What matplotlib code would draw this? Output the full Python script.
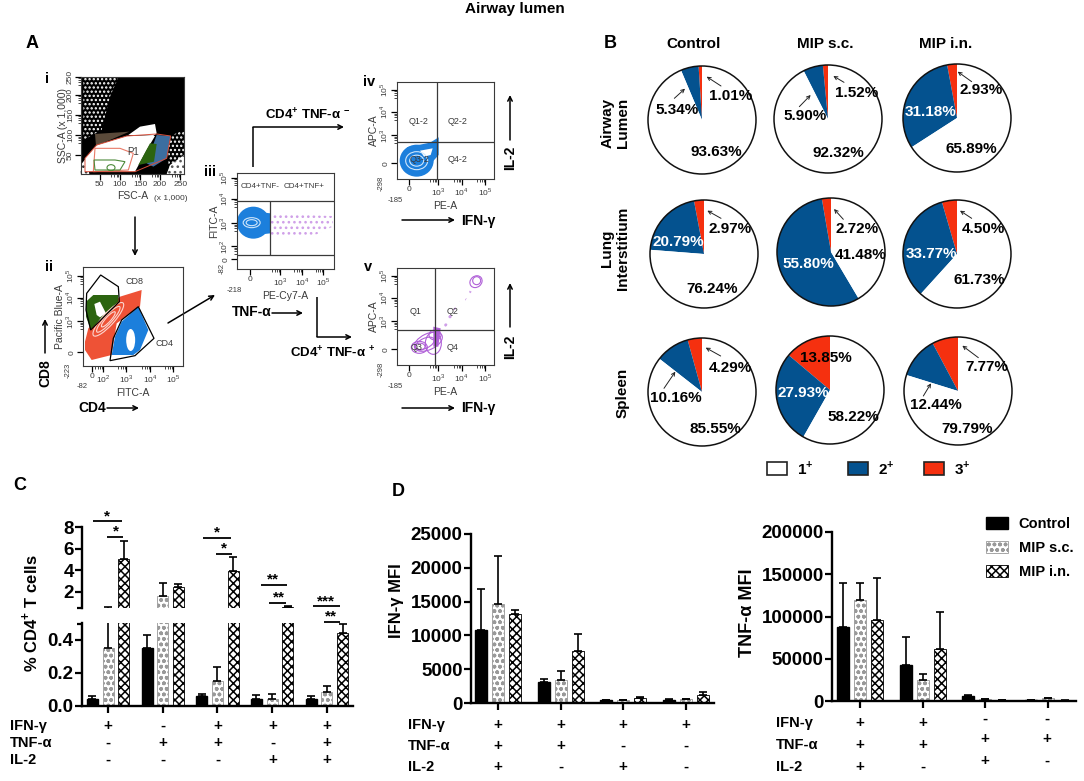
import matplotlib
matplotlib.use("Agg")
import matplotlib.pyplot as plt
from matplotlib.patches import Ellipse, Polygon, Rectangle

plt.rcParams['font.family'] = ['Liberation Sans', 'DejaVu Sans']
plt.rcParams['mathtext.fontset'] = 'custom'
plt.rcParams['mathtext.rm'] = 'Liberation Sans'
plt.rcParams['mathtext.bf'] = 'Liberation Sans:bold'
plt.rcParams['hatch.linewidth'] = 1.1

W, H = 1084, 781

GROUPS = ["Control", "MIP s.c.", "MIP i.n."]
ORGANS = ["Airway\nLumen", "Lung\nInterstitium", "Spleen"]

# pie values: 3+, 2+, 1+ for each organ (row) and group (col)
PIE_3 = [[1.01, 1.52, 2.93], [2.97, 2.72, 4.50], [4.29, 13.85, 7.77]]
PIE_2 = [[5.34, 5.90, 31.18], [20.79, 55.80, 33.77], [10.16, 27.93, 12.44]]
PIE_1 = [[93.63, 92.32, 65.89], [76.24, 41.48, 61.73], [85.55, 58.22, 79.79]]

# panel C, % CD4+ T cells
C_CONTROL = [0.04, 0.35, 0.06, 0.04, 0.045]
C_SC = [0.35, 1.6, 0.15, 0.04, 0.085]
C_IN = [5.0, 2.4, 3.9, 0.6, 0.44]
C_CONTROL_ERR = [0.02, 0.08, 0.012, 0.025, 0.015]
C_SC_ERR = [0.2, 1.2, 0.085, 0.03, 0.035]
C_IN_ERR = [1.7, 0.3, 1.3, 0.1, 0.055]
C_IFN = ["+", "-", "+", "+", "+"]
C_TNF = ["-", "+", "+", "-", "+"]
C_IL2 = ["-", "-", "-", "+", "+"]

# panel D, IFN-g MFI
D_CONTROL = [10800, 3050, 400, 450]
D_SC = [14700, 3400, 400, 550]
D_IN = [13200, 7700, 750, 1200]
D_CONTROL_ERR = [6000, 550, 50, 70]
D_SC_ERR = [7100, 1350, 80, 100]
D_IN_ERR = [500, 2450, 150, 450]
D_IFN = ["+", "+", "+", "+"]
D_TNF = ["+", "+", "-", "-"]
D_IL2 = ["+", "-", "+", "-"]

# panel D, TNF-a MFI
E_CONTROL = [88000, 43000, 5500, 800]
E_SC = [120000, 24500, 2000, 3000]
E_IN = [96000, 61000, 1200, 500]
E_CONTROL_ERR = [52000, 33000, 1300, 200]
E_SC_ERR = [20000, 8000, 800, 800]
E_IN_ERR = [50000, 44000, 300, 200]
E_IFN = ["+", "+", "-", "-"]
E_TNF = ["+", "+", "+", "+"]
E_IL2 = ["+", "-", "+", "-"]

BLUE = "#04528f"
RED = "#f5300f"
FLOW_BLUE = "#1c7fdc"
FLOW_RED = "#ee5236"
FLOW_GREEN = "#2c6410"
PURPLE = "#b060d8"
GREY = "#3a3a3a"

fig = plt.figure(figsize=(W / 100, H / 100), dpi=100)

# overlay in pixel units, y flipped by hand because ax.pie needs y going up
ov = fig.add_axes([0, 0, 1, 1], zorder=0)
ov.set_xlim(0, W)
ov.set_ylim(0, H)
ov.axis("off")


def label(x, y, s, size=11, weight="bold", color="black", rot=0, ha="center", target=None):
    (target or ov).text(x, H - y, s, fontsize=size, fontweight=weight, color=color,
                        rotation=rot, ha=ha, va="center", linespacing=1.1, zorder=8)


def arrow(x0, y0, x1, y1, color="black", lw=1.1, scale=8):
    ov.annotate("", xy=(x1, H - y1), xytext=(x0, H - y0), zorder=7,
                arrowprops=dict(arrowstyle="->", color=color, lw=lw, mutation_scale=scale,
                                shrinkA=0, shrinkB=0))


def line(xs, ys, color="black", lw=1.1):
    ov.plot(xs, [H - y for y in ys], color=color, lw=lw, zorder=6, solid_capstyle="butt")


def z1(pts):
    # coordinates
    return [(x / 3, H - (30 + y / 3)) for x, y in pts]


def z2(pts):
    return [(200 + x / 3, H - (60 + y / 3)) for x, y in pts]


def poly(pts, fc, ec="none", lw=0, z=2, hatch=None):
    ov.add_patch(Polygon(pts, closed=True, facecolor=fc, edgecolor=ec, lw=lw, zorder=z, hatch=hatch))


def flow_axes(x0, y0, x1, y1, xpos, xlabs, ypos, ylabs, xname, yname):
    ax = fig.add_axes([x0 / W, 1 - y1 / H, (x1 - x0) / W, (y1 - y0) / H], zorder=3)
    ax.patch.set_alpha(0)
    ax.set_xlim(0, 1)
    ax.set_ylim(0, 1)
    ax.set_xticks(xpos, xlabs, fontsize=6, color=GREY)
    ax.set_yticks(ypos, ylabs, fontsize=6, color=GREY, rotation=90, va="center")
    minor_x = [p + d for p in xpos[1:] for d in (-0.08, -0.05, -0.03, -0.015)]
    minor_y = [p + d for p in ypos[1:] for d in (-0.08, -0.05, -0.03, -0.015)]
    ax.set_xticks([p for p in minor_x if 0 < p < 1], minor=True)
    ax.set_yticks([p for p in minor_y if 0 < p < 1], minor=True)
    ax.tick_params(length=4, width=0.9, pad=1)
    ax.tick_params(which="minor", length=2.5, width=0.5)
    ax.set_xlabel(xname, fontsize=7.5, color=GREY, labelpad=2)
    ax.set_ylabel(yname, fontsize=7.5, color=GREY, labelpad=-1)
    for s in ax.spines.values():
        s.set_linewidth(0.8)
        s.set_color(GREY)
    return ax


# ---------- panel A ----------
# i: FSC/SSC
poly(z1([(242, 142), (552, 142), (552, 432), (242, 432)]), "black", z=1)
poly(z1([(250, 142), (355, 142), (330, 200), (305, 300), (250, 330)]), "black", ec="white", z=1.2, hatch="....")
poly(z1([(505, 320), (552, 300), (552, 432), (505, 432)]), "black", ec="white", z=1.2, hatch="....")
poly(z1([(510, 405), (552, 375), (552, 432), (500, 432)]), "white", ec="#555555", z=1.3, hatch="...")
poly(z1([(242, 405), (258, 385), (268, 432), (242, 432)]), "white", ec="#333333", z=1.3, hatch="...")
poly(z1([(385, 315), (420, 290), (465, 282), (470, 310), (460, 318)]), "white")
poly(z1([(255, 385), (290, 345), (380, 318), (465, 318), (440, 360), (405, 425), (255, 425)]), "white")
poly(z1([(285, 312), (388, 305), (330, 330), (288, 347)]), "#5a4a3a", z=2.1)
poly(z1([(470, 315), (512, 318), (500, 385), (460, 410), (440, 400)]), "#3c6ea0", z=2.1)
poly(z1([(415, 405), (450, 340), (470, 342), (462, 395)]), FLOW_GREEN, z=2.2)
poly(z1([(285, 355), (360, 355), (400, 370), (385, 420), (280, 425)]), "none", ec="#e87a68", lw=0.8, z=2.3)
poly(z1([(282, 390), (345, 390), (375, 395), (360, 420), (285, 420)]), "none", ec="#4c8a3a", lw=0.8, z=2.3)
ov.add_patch(Ellipse(z1([(333, 413)])[0], 8, 6, fc="none", ec="#4c8a3a", lw=0.8, zorder=2.3))
poly(z1([(255, 385), (290, 345), (380, 318), (470, 312), (512, 318), (500, 385), (405, 425), (255, 425)]),
     "none", ec="#d8503c", lw=0.7, z=2.4)
label(133, 152, "P1", size=7, weight="normal", color=GREY)
flow_axes(81, 77, 184, 174,
          [0.18, 0.375, 0.575, 0.765, 0.965], ["50", "100", "150", "200", "250"],
          [0.195, 0.40, 0.61, 0.815, 1.0], ["50", "100", "150", "200", "250"], "FSC-A", "SSC-A (x 1,000)")
label(171, 198, "(x 1,000)", size=6, weight="normal", color=GREY)

# ii: CD4/CD8
poly(z1([(255, 935), (265, 895), (360, 800), (425, 780), (420, 830), (350, 880), (335, 975), (275, 990), (255, 960)]), FLOW_RED)
poly(z1([(258, 815), (280, 795), (355, 795), (355, 815), (272, 898), (258, 860)]), FLOW_GREEN, z=2.2)
poly(z1([(335, 975), (345, 920), (365, 875), (415, 830), (445, 900), (420, 960), (400, 975)]), FLOW_BLUE, z=2.2)
poly(z1([(283, 822), (300, 815), (318, 850), (300, 862), (290, 855)]), "white", z=2.3)
ov.add_patch(Ellipse(z1([(392, 930)])[0], 9, 22, fc="white", ec="none", zorder=2.3))
for w, h in ((44, 12), (34, 8), (20, 5)):
    ov.add_patch(Ellipse(z1([(325, 868)])[0], w, h, angle=48, fc="none", ec="#fbd6cf", lw=0.8, zorder=2.3))
poly(z1([(260, 790), (302, 735), (355, 770), (358, 815), (272, 900), (258, 840)]), "none", ec="black", lw=0.9, z=2.5)
poly(z1([(415, 830), (462, 925), (405, 977), (330, 992), (340, 925), (365, 870)]), "none", ec="black", lw=0.9, z=2.5)
label(134, 282, "CD8", size=6.5, weight="normal", color=GREY)
label(164, 344, "CD4", size=6.5, weight="normal", color=GREY)
flow_axes(83, 267, 183, 366,
          [0.09, 0.20, 0.43, 0.67, 0.90], ["0", "$10^2$", "$10^3$", "$10^4$", "$10^5$"],
          [0.14, 0.45, 0.69, 0.91], ["0", "$10^3$", "$10^4$", "$10^5$"], "FITC-A", "Pacific Blue-A")
label(82, 386, "-82", size=5.5, weight="normal", color=GREY)
label(68, 370, "-223", size=5.5, weight="normal", color=GREY, rot=90)

# iii: TNF gate
ov.add_patch(Ellipse(z2([(160, 488)])[0], 33, 32, fc=FLOW_BLUE, ec="none", zorder=2))
poly(z2([(165, 455), (212, 460), (212, 520), (165, 525)]), FLOW_BLUE, z=2)
poly(z2([(212, 460), (398, 468), (398, 500), (345, 525), (212, 525)]), "none", ec="#cf9fe8", z=2, hatch="...")
for w, h in ((17, 10), (11, 6)):
    ov.add_patch(Ellipse(z2([(155, 488)])[0], w, h, fc="none", ec="#cfe6fb", lw=0.8, zorder=2.3))
line([237, 334], [201, 201], color=GREY, lw=0.9)
line([237, 334], [254.5, 254.5], color=GREY, lw=0.9)
line([270, 270], [201, 254.5], color=GREY, lw=0.9)
label(260, 186, "CD4+TNF-", size=5.8, weight="normal", color=GREY)
label(304, 186, "CD4+TNF+", size=5.8, weight="normal", color=GREY)
flow_axes(237, 173, 334, 269,
          [0.13, 0.445, 0.67, 0.89], ["0", "$10^3$", "$10^4$", "$10^5$"],
          [0.10, 0.235, 0.475, 0.73, 0.95], ["0", "$10^2$", "$10^3$", "$10^4$", "$10^5$"], "PE-Cy7-A", "FITC-A")
label(234, 291, "-218", size=5.5, weight="normal", color=GREY)
label(222, 268, "-82", size=5.5, weight="normal", color=GREY, rot=90)

# iv
ov.add_patch(Ellipse(z2([(650, 302)])[0], 34, 32, fc=FLOW_BLUE, ec="none", zorder=2))
poly(z2([(620, 262), (690, 248), (716, 232), (716, 285), (680, 325)]), FLOW_BLUE, z=2)
poly(z2([(660, 272), (698, 265), (692, 285), (672, 290)]), "white", z=2.1)
for w, h in ((22, 18), (14, 11)):
    ov.add_patch(Ellipse(z2([(650, 302)])[0], w, h, fc="none", ec="#cfe6fb", lw=0.8, zorder=2.3))
line([397, 494], [141.5, 141.5], color=GREY, lw=0.9)
line([437, 437], [82, 179], color=GREY, lw=0.9)

# v
for c, w, h, a in (((658, 862), 16, 12, 0), ((660, 860), 10, 7, 0), ((685, 845), 30, 16, 25), ((675, 850), 20, 10, 25),
                   ((705, 825), 12, 10, 0), ((828, 665), 13, 11, 40), ((830, 662), 8, 8, 40), ((700, 850), 16, 22, 0)):
    ov.add_patch(Ellipse(z2([c])[0], w, h, angle=a, fc="none", ec=PURPLE, lw=0.8, zorder=2.3))
poly(z2([(700, 800), (722, 805), (715, 860), (700, 860)]), PURPLE, z=2)
poly(z2([(720, 800), (805, 690), (815, 695), (735, 805)]), "none", ec="#cf9fe8", z=2, hatch="..")
line([397, 494], [329.5, 329.5], color=GREY, lw=0.9)
line([435, 435], [268, 365], color=GREY, lw=0.9)

flow_xpos = [0.12, 0.42, 0.667, 0.907]
flow_xlab = ["0", "$10^3$", "$10^4$", "$10^5$"]
flow_ypos = [0.16, 0.45, 0.69, 0.92]
flow_axes(397, 82, 494, 179, flow_xpos, flow_xlab, flow_ypos, flow_xlab, "PE-A", "APC-A")
flow_axes(397, 268, 494, 365, flow_xpos, flow_xlab, flow_ypos, flow_xlab, "PE-A", "APC-A")
for ytop in (82, 268):
    label(395, ytop + 119, "-185", size=5.5, weight="normal", color=GREY)
    label(381, ytop + 101, "-298", size=5.5, weight="normal", color=GREY, rot=90)
for s, x, y in (("Q1-2", 419, 121), ("Q2-2", 458, 121), ("Q3-2", 420, 159), ("Q4-2", 458, 160),
                ("Q1", 416, 311), ("Q2", 453, 311), ("Q3", 417, 347), ("Q4", 453, 348)):
    label(x, y, s, size=6.5, weight="normal", color=GREY)

# roman numerals and flow arrows
for s, x, y in (("i", 47, 79), ("ii", 49, 267), ("iii", 210, 172), ("iv", 369, 82), ("v", 368, 267)):
    label(x, y, s, size=10.5)
arrow(135, 217, 135, 256)
arrow(168, 323, 215, 295)
arrow(45, 353, 45, 319)
arrow(107, 408, 139, 408)
arrow(272, 313, 303, 313)
arrow(402, 220, 455, 220)
arrow(402, 408, 455, 408)
arrow(510, 140, 510, 95)
arrow(510, 327, 510, 283)
line([253, 253], [167, 127])
arrow(253, 127, 344, 127)
line([317, 317], [297, 337])
arrow(317, 337, 352, 337)
label(45, 373, "CD8", size=10, rot=90)
label(92, 408, "CD4", size=10)
label(252, 312, "TNF-α", size=10)
label(478, 221, "IFN-γ", size=10)
label(478, 408, "IFN-γ", size=10)
label(510, 158, "IL-2", size=10, rot=90)
label(510, 347, "IL-2", size=10, rot=90)
label(308, 115, "CD4$^{\\mathbf{+}}$ TNF-α $^{\\mathbf{-}}$", size=9.5)
label(333, 353, "CD4$^{\\mathbf{+}}$ TNF-α $^{\\mathbf{+}}$", size=9.5)

# panel letters and title
label(515, 9, "Airway lumen", size=11)
label(32, 44, "A", size=13)
label(610, 43, "B", size=13)
label(20, 486, "C", size=13)
label(398, 492, "D", size=13)

# ---------- panel B pies ----------
PIE_CENTERS = [[(702, 120), (828, 119), (957, 118)],
               [(704, 254), (831, 252), (957, 254)],
               [(702, 392), (830, 390), (958, 391)]]
for r in range(3):
    for c in range(3):
        cx, cy = PIE_CENTERS[r][c]
        vals = [PIE_3[r][c], PIE_2[r][c], PIE_1[r][c]]
        ov.pie(vals, colors=[RED, BLUE, "white"], center=(cx, H - cy), radius=54, startangle=90,
               frame=True, wedgeprops=dict(edgecolor="none"))
        ov.add_patch(plt.Circle((cx, H - cy), 54, fc="none", ec="#111111", lw=1.1, zorder=3))
ov.set_xlim(0, W)
ov.set_ylim(0, H)
ov.set_xticks([])
ov.set_yticks([])

PIE_TEXT_POS = [
    [[(422, 197), (262, 240), (378, 365)], [(800, 190), (645, 258), (745, 369)], [(1172, 180), (1022, 245), (1145, 357)]],
    [[(420, 598), (265, 635), (366, 776)], [(800, 598), (656, 703), (812, 675)], [(1180, 596), (1025, 672), (1168, 750)]],
    [[(420, 1013), (257, 1105), (375, 1197)], [(708, 984), (640, 1088), (790, 1162)], [(1190, 1012), (1037, 1125), (1132, 1197)]],
]
WHITE_TEXT = [(0, 2), (1, 0), (1, 1), (1, 2), (2, 1)]
for r in range(3):
    for c in range(3):
        vals = [PIE_3[r][c], PIE_2[r][c], PIE_1[r][c]]
        for i, v in enumerate(vals):
            px, py = PIE_TEXT_POS[r][c][i]
            col = "white" if i == 1 and (r, c) in WHITE_TEXT else "black"
            label(590 + px / 3, 30 + py / 3, f"{v:.2f}%", size=11, color=col)

PIE_ARROWS = [(393, 168, 350, 140), (253, 205, 285, 176), (762, 157, 730, 138), (628, 230, 662, 195),
              (1145, 155, 1103, 125), (393, 565, 352, 542), (760, 568, 732, 537), (1145, 565, 1110, 542),
              (392, 978, 347, 953), (222, 1075, 256, 1025), (1165, 983, 1117, 947), (1000, 1098, 1023, 1060)]
for x0, y0, x1, y1 in PIE_ARROWS:
    arrow(590 + x0 / 3, 30 + y0 / 3, 590 + x1 / 3, 30 + y1 / 3, color="#222222", lw=0.7, scale=6)

for s, x in zip(GROUPS, (694, 825, 946)):
    label(x, 44, s, size=11)
for s, x, y in zip(ORGANS, (615, 615, 623), (123, 248, 393)):
    label(x, y, s, size=11, rot=90)

for x, col, s, tx in ((767, "white", "1", 805), (848, BLUE, "2", 886), (924, RED, "3", 962)):
    ov.add_patch(Rectangle((x, H - 475), 20, 13, fc=col, ec="#222222", lw=1.2, zorder=3))
    label(tx, 468, s + "$^{\\mathbf{+}}$", size=11)


# ---------- bars ----------
def bar_axes(x0, y0, x1, y1, xlim, ylim):
    ax = fig.add_axes([x0 / W, 1 - y1 / H, (x1 - x0) / W, (y1 - y0) / H], zorder=4)
    ax.patch.set_alpha(0)
    ax.set_xlim(*xlim)
    ax.set_ylim(*ylim)
    ax.spines["top"].set_visible(False)
    ax.spines["right"].set_visible(False)
    ax.spines["left"].set_linewidth(1.7)
    ax.spines["bottom"].set_linewidth(1.7)
    ax.tick_params(width=1.6, length=5, labelsize=13, pad=1)
    return ax


def draw_bars(ax, series, errs, step, width):
    styles = [dict(color="black", edgecolor="black"),
              dict(color="white", edgecolor="#999999", hatch="ooo", lw=0.6),
              dict(color="white", edgecolor="black", hatch="xxxx", lw=0.6)]
    ymin = ax.get_ylim()[0]
    handles = []
    for i, (vals, err) in enumerate(zip(series, errs)):
        xs = [g + (i - 1) * step for g in range(len(vals))]
        h = ax.bar(xs, vals, width, label=GROUPS[i], **styles[i])
        # a cap just under the axis break would still bleed over the clip edge
        keep = [k for k in range(len(vals)) if ymin == 0 or vals[k] + err[k] > ymin + 0.01]
        ax.errorbar([xs[k] for k in keep], [vals[k] for k in keep],
                    yerr=[[0] * len(keep), [err[k] for k in keep]], fmt="none", ecolor="black",
                    elinewidth=1.2, capsize=2.8, capthick=1.2)
        handles.append(h)
    return handles


def set_yticks(ax, ticks, labels):
    ax.set_yticks(ticks, labels, fontweight="bold", fontsize=13.5)


def sign_rows(rows, xs, ys, name_x, names, size=11):
    for name, row, y in zip(names, rows, ys):
        label(name_x, y, name, size=10.5, ha="left")
        for x, s in zip(xs, row):
            label(x, y, s, size=size)


# C: broken y axis. group spacing 54.7 px, group 0 at x = 108
step_c = 15.7 / 54.7
width_c = 11 / 54.7
xlim_c = ((82 - 108) / 54.7, (353 - 108) / 54.7)
c_series = [C_CONTROL, C_SC, C_IN]
c_errs = [C_CONTROL_ERR, C_SC_ERR, C_IN_ERR]

c_low = bar_axes(82, 623, 353, 706, xlim_c, (0, 0.5))
draw_bars(c_low, c_series, c_errs, step_c, width_c)
set_yticks(c_low, [0, 0.2, 0.4], ["0.0", "0.2", "0.4"])
c_low.set_xticks(range(5), [""] * 5)

c_top = bar_axes(82, 527, 353, 608, xlim_c, (0.5, 8))
draw_bars(c_top, c_series, c_errs, step_c, width_c)
set_yticks(c_top, [2, 4, 6, 8], ["2", "4", "6", "8"])
c_top.spines["bottom"].set_visible(False)
c_top.set_xticks([])
line([77, 83], [608, 608], lw=1.6)
line([77, 83], [623.5, 623.5], lw=1.6)
label(30, 613, "% CD4$^{\\mathbf{+}}$ T cells", size=12, rot=90)

for x0, x1, y, sx, sy, s in ((280, 367, 152, 322, 138, "*"), (322, 368, 200, 348, 185, "*"),
                             (608, 693, 203, 650, 188, "*"), (648, 695, 251, 672, 236, "*"),
                             (784, 860, 344, 820, 328, "**"), (808, 858, 399, 838, 381, "**"),
                             (938, 1020, 409, 977, 395, "***"), (972, 1020, 455, 993, 440, "**")):
    line([x0 / 3, x1 / 3], [470 + y / 3, 470 + y / 3], lw=1.3)
    label(sx / 3, 470 + sy / 3, s, size=11)

sign_rows([C_IFN, C_TNF, C_IL2], [108, 163, 218, 273, 327], [726, 743, 760], 10, ["IFN-γ", "TNF-α", "IL-2"])

# D left: IFN-g. groups 62.5 px apart, group 0 at x = 498
step_d = 17 / 62.5
width_d = 12 / 62.5
d_ax = bar_axes(471, 534, 714, 703, ((471 - 498) / 62.5, (714 - 498) / 62.5), (0, 25000))
draw_bars(d_ax, [D_CONTROL, D_SC, D_IN], [D_CONTROL_ERR, D_SC_ERR, D_IN_ERR], step_d, width_d)
set_yticks(d_ax, range(0, 25001, 5000), ["0", "5000", "10000", "15000", "20000", "25000"])
d_ax.set_xticks(range(4), [""] * 4)
label(397, 601, "IFN-γ MFI", size=12, rot=90)
sign_rows([D_IFN, D_TNF, D_IL2], [498, 561, 623, 686], [725, 746, 767], 408, ["IFN-γ", "TNF-α", "IL-2"])

# D right: TNF-a
e_ax = bar_axes(832, 532, 1076, 701, ((832 - 860) / 62.5, (1076 - 860) / 62.5), (0, 200000))
e_handles = draw_bars(e_ax, [E_CONTROL, E_SC, E_IN], [E_CONTROL_ERR, E_SC_ERR, E_IN_ERR], step_d, width_d)
set_yticks(e_ax, range(0, 200001, 50000), ["0", "50000", "100000", "150000", "200000"])
e_ax.set_xticks(range(4), [""] * 4)
label(748, 613, "TNF-α MFI", size=13, rot=90)
e_ax.legend(handles=e_handles, loc="upper left", bbox_to_anchor=(0.603, 1.13), frameon=False,
            prop=dict(size=10.5, weight="bold"), handlelength=1.45, handleheight=0.9,
            labelspacing=0.68, handletextpad=0.75, borderpad=0)

E_ROWS_Y = [[723, 745, 767], [723, 745, 767], [719, 739, 761], [719, 739, 761]]
for name, y in zip(["IFN-γ", "TNF-α", "IL-2"], (723, 745, 767)):
    label(776, y, name, size=10.5, ha="left")
for g, x in enumerate((860, 923, 985, 1047)):
    for row, y in zip((E_IFN, E_TNF, E_IL2), E_ROWS_Y[g]):
        label(x, y, row[g], size=11)

fig.savefig("out.png", dpi=100)
